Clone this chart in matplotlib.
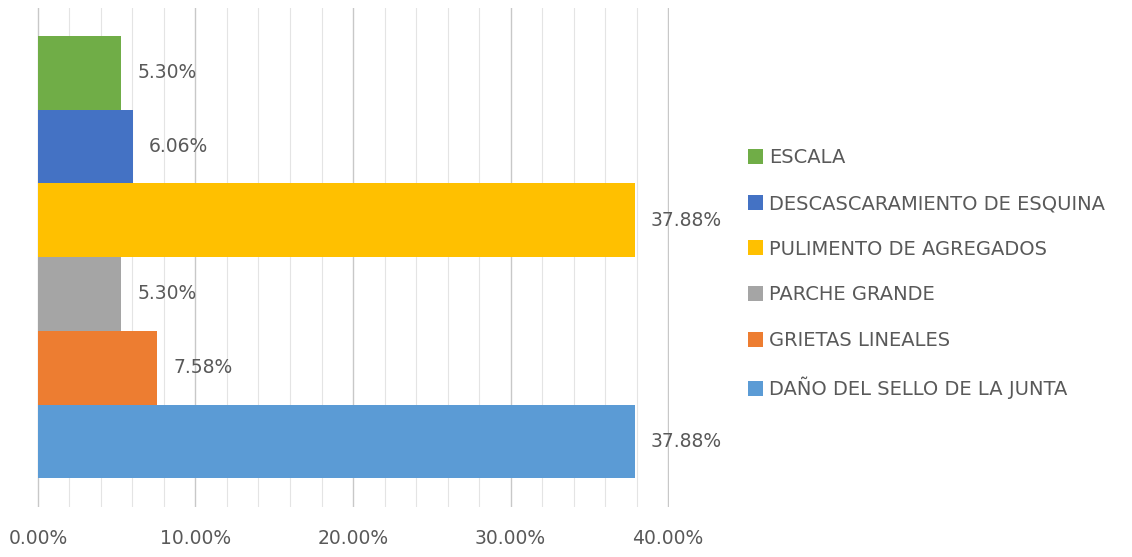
import matplotlib.pyplot as plt
import numpy as np

categories = ["DAÑO DEL SELLO DE LA JUNTA", "GRIETAS LINEALES", "PARCHE GRANDE",
              "PULIMENTO DE AGREGADOS", "DESCASCARAMIENTO DE ESQUINA", "ESCALA"]
values = [37.88, 7.58, 5.30, 37.88, 6.06, 5.30]
colors = ["#5B9BD5", "#ED7D31", "#A5A5A5", "#FFC000", "#4472C4", "#70AD47"]
xticks = [0, 10, 20, 30, 40]

fig = plt.figure(figsize=(11.32, 5.57), dpi=100)
ax = fig.add_axes([0.0327, 0.0898, 0.5583, 0.8959])

y = np.arange(len(categories))
for i in range(len(categories)):
    ax.barh(y[i], values[i], height=1.0, color=colors[i], label=categories[i], zorder=3)
    ax.text(values[i] + 1.0, y[i], f"{values[i]:.2f}%", va="center", ha="left",
            fontsize=13.5, color="#595959")

# a little slack so the 0% and 40% grid lines are not clipped
ax.set_xlim(-0.06, 40.06)
ax.set_ylim(-0.89, 5.88)
ax.set_xticks(xticks)
ax.set_xticklabels([f"{v:.2f}%" for v in xticks], fontsize=13.5, color="#595959")
ax.set_xticks(np.arange(0, 41, 2), minor=True)
ax.set_yticks([])
ax.tick_params(axis="x", which="both", length=0, pad=16)
ax.grid(axis="x", which="major", color="#c8c8c8", linewidth=1.0, zorder=0)
ax.grid(axis="x", which="minor", color="#e4e4e4", linewidth=0.8, zorder=0)
for s in ax.spines.values():
    s.set_visible(False)

handles, labels = ax.get_legend_handles_labels()
leg = fig.legend(handles[::-1], labels[::-1], loc="upper left", bbox_to_anchor=(0.645, 0.765),
                 frameon=False, fontsize=14, handlelength=0.8, handleheight=0.8,
                 handletextpad=0.3, labelspacing=1.37, labelcolor="#595959")

fig.savefig("out.png", dpi=100)
